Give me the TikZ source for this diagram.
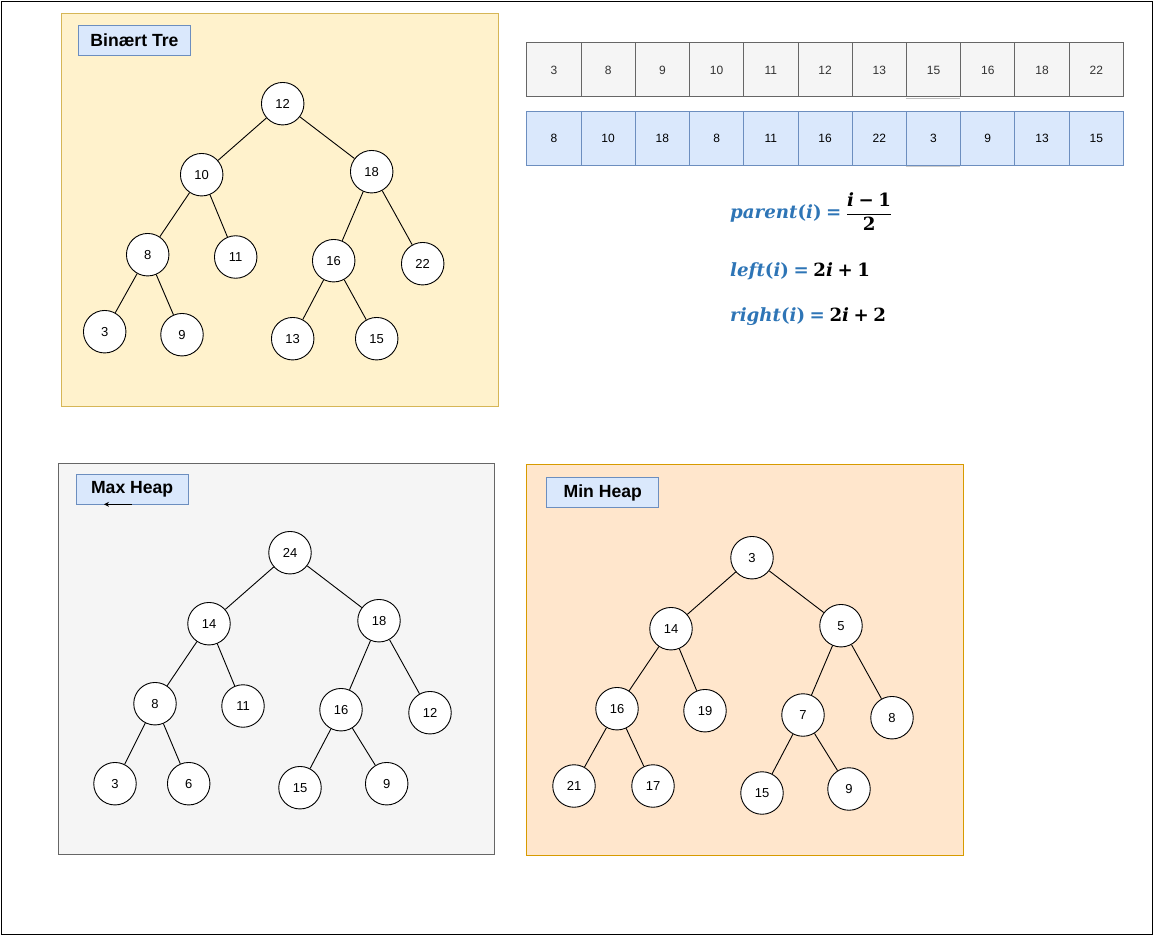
\documentclass[tikz,border=0pt]{standalone}
\usepackage{amsmath}
\usepackage{fontspec}
\setmainfont{Liberation Sans}
\newfontfamily\fmfont{DejaVu Serif}
\newcommand\fmI[1]{{\itshape #1}}
\newcommand\fmS{\hspace{0.25em}}
\usetikzlibrary{arrows.meta}
\definecolor{yelF}{HTML}{FFF2CC}
\definecolor{yelS}{HTML}{D6B656}
\definecolor{grayF}{HTML}{F5F5F5}
\definecolor{grayS}{HTML}{666666}
\definecolor{oraF}{HTML}{FFE6CC}
\definecolor{oraS}{HTML}{D79B00}
\definecolor{bluF}{HTML}{DAE8FC}
\definecolor{bluS}{HTML}{6C8EBF}
\definecolor{txtG}{HTML}{333333}
\definecolor{fblue}{HTML}{2E75B6}
\begin{document}
\begin{tikzpicture}[x=1pt,y=-1pt,
  tn/.style={circle, draw=black, fill=white, line width=0.9pt, minimum size=42.5pt, inner sep=0pt, font=\fontsize{13}{15}\selectfont},
  edge/.style={draw=black, line width=0.9pt},
  panel/.style={line width=0.9pt, anchor=north west, inner sep=0pt},
  titlebox/.style={draw=bluS, fill=bluF, line width=0.9pt, anchor=north west, minimum width=112pt, minimum height=30pt, inner sep=0pt, font=\fontsize{17.6}{20}\selectfont\bfseries},
  cellA/.style={draw=grayS, fill=grayF, line width=0.9pt, anchor=north west, minimum width=54.24pt, minimum height=54.2pt, inner sep=0pt, text=txtG, text height=8.6pt, text depth=0pt, font=\fontsize{12}{14}\selectfont},
  cellB/.style={draw=bluS, fill=bluF, line width=0.9pt, anchor=north west, minimum width=54.24pt, minimum height=53.7pt, inner sep=0pt, text=black, text height=8.6pt, text depth=0pt, font=\fontsize{12}{14}\selectfont},
  formula/.style={anchor=base west, inner sep=0pt, font=\fontsize{18.2}{21}\selectfont\fmfont\bfseries}
]
\useasboundingbox (0,0) rectangle (1153,936);
\node[draw=black, line width=1.5pt, anchor=north west, minimum width=1150.75pt, minimum height=932.75pt, inner sep=0pt] (frame) at (0.75,0.75) {};

% panels
\node[panel, draw=yelS, fill=yelF, minimum width=436.5pt, minimum height=392.5pt] (pB) at (61,13) {};
\node[panel, draw=grayS, fill=grayF, minimum width=436pt, minimum height=391pt] (pX) at (58.3,463.3) {};
\node[panel, draw=oraS, fill=oraF, minimum width=436.4pt, minimum height=391pt] (pN) at (526.3,463.7) {};

% titles
\node[titlebox] (tB) at (78,25) {Binært Tre};
\node[titlebox] (tX) at (75.7,474.3) {Max Heap};
\node[titlebox] (tN) at (546.3,477.3) {Min Heap};
\coordinate (arS) at (131.7,504.3);
\coordinate (arE) at (104,504.3);
\draw[line width=0.9pt, -{Stealth[length=5pt,width=5pt]}] (arS) -- (arE);

% arrays
\foreach \v [count=\k from 0] in {3,8,9,10,11,12,13,15,16,18,22} {
  \node[cellA] (a\k) at (526.3+54.24*\k,42.3) {\v};
}
\foreach \v [count=\k from 0] in {8,10,18,8,11,16,22,3,9,13,15} {
  \node[cellB] (c\k) at (526.3+54.24*\k,111.3) {\v};
}
\draw[draw=black!25, line width=0.9pt] (a7.south west) ++(0,0.8) -- ++(54.24,0);
\draw[draw=black!20, line width=0.9pt] (c7.south west) ++(0,0.8) -- ++(54.24,0);

% formulas
\node[formula] (fP) at (730,218.5) {\color{fblue}\fmI{parent}(\fmI{i})\fmS=\fmS\color{black}$\displaystyle\frac{\text{\fmfont\bfseries\fmI{i}\fmS−\fmS1}}{\text{\fmfont\bfseries 2}}$};
\node[formula] (fL) at (730,276.5) {\color{fblue}\fmI{left}(\fmI{i})\fmS=\fmS\color{black}2\fmI{i}\fmS+\fmS1};
\node[formula] (fR) at (730,321.5) {\color{fblue}\fmI{right}(\fmI{i})\fmS=\fmS\color{black}2\fmI{i}\fmS+\fmS2};

% binary tree
\node[tn] (b-R) at (282.7,103.7) {12};
\node[tn] (b-L) at (201.7,174.7) {10};
\node[tn] (b-Rt) at (371.7,171.7) {18};
\node[tn] (b-LL) at (147.7,254.7) {8};
\node[tn] (b-LR) at (235.7,257) {11};
\node[tn] (b-RL) at (333.7,260.7) {16};
\node[tn] (b-RR) at (422.7,263.7) {22};
\node[tn] (b-LLL) at (104.7,331.7) {3};
\node[tn] (b-LLR) at (182,334.7) {9};
\node[tn] (b-RLL) at (292.7,338.7) {13};
\node[tn] (b-RLR) at (376.7,338.7) {15};

% max heap
\node[tn] (x-R) at (290,552.7) {24};
\node[tn] (x-L) at (209,623.7) {14};
\node[tn] (x-Rt) at (379,620.7) {18};
\node[tn] (x-LL) at (155,703.7) {8};
\node[tn] (x-LR) at (243,706) {11};
\node[tn] (x-RL) at (341,709.7) {16};
\node[tn] (x-RR) at (430,712.7) {12};
\node[tn] (x-LLL) at (115,783.7) {3};
\node[tn] (x-LLR) at (188.7,783.7) {6};
\node[tn] (x-RLL) at (300,787.7) {15};
\node[tn] (x-RLR) at (386.7,783.7) {9};

% min heap
\node[tn] (n-R) at (752,557.7) {3};
\node[tn] (n-L) at (671,628.7) {14};
\node[tn] (n-Rt) at (841,625.7) {5};
\node[tn] (n-LL) at (617,708.7) {16};
\node[tn] (n-LR) at (705,710.7) {19};
\node[tn] (n-RL) at (803,715) {7};
\node[tn] (n-RR) at (892,717.7) {8};
\node[tn] (n-LLL) at (574,786) {21};
\node[tn] (n-LLR) at (653,786) {17};
\node[tn] (n-RLL) at (762,793) {15};
\node[tn] (n-RLR) at (849,789) {9};

\foreach \p in {b,x,n} {
  \draw[edge] (\p-R) -- (\p-L);
  \draw[edge] (\p-R) -- (\p-Rt);
  \draw[edge] (\p-L) -- (\p-LL);
  \draw[edge] (\p-L) -- (\p-LR);
  \draw[edge] (\p-Rt) -- (\p-RL);
  \draw[edge] (\p-Rt) -- (\p-RR);
  \draw[edge] (\p-LL) -- (\p-LLL);
  \draw[edge] (\p-LL) -- (\p-LLR);
  \draw[edge] (\p-RL) -- (\p-RLL);
  \draw[edge] (\p-RL) -- (\p-RLR);
}
\end{tikzpicture}
\end{document}
